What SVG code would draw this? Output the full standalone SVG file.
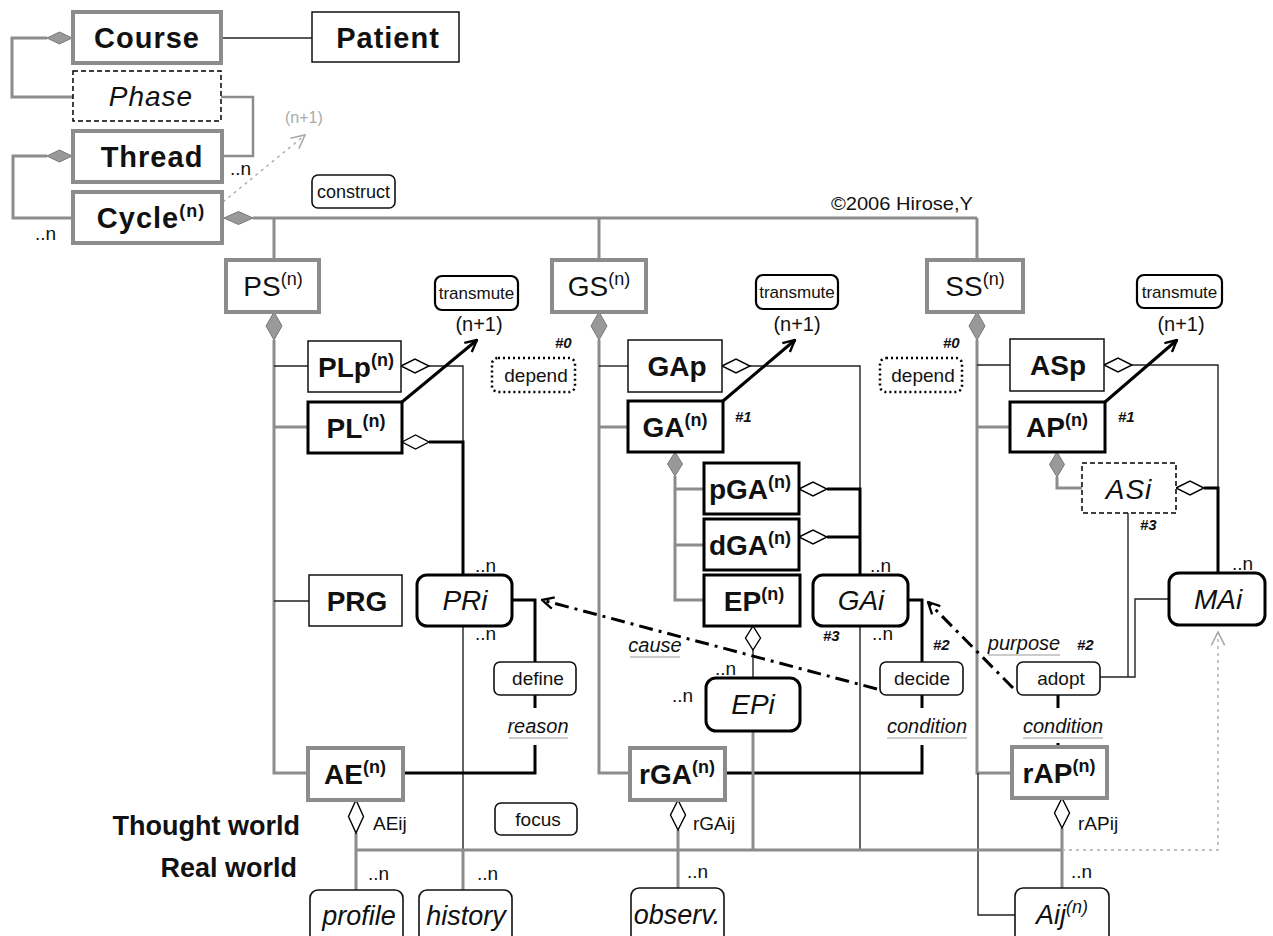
<svg xmlns="http://www.w3.org/2000/svg" width="1273" height="936" viewBox="0 0 1273 936">
<defs>
<style>
text{font-family:"Liberation Sans",Arial,sans-serif;fill:#111}
.b{font-size:28px;font-weight:bold;text-anchor:middle}
.bl{font-size:29px;font-weight:bold;text-anchor:middle;letter-spacing:1px}
.r{font-size:28px;text-anchor:middle}
.i{font-size:28px;font-style:italic;text-anchor:middle}
.il{font-size:27px;font-style:italic;text-anchor:middle}
.sup{font-size:18px}
.s{font-size:19px;text-anchor:middle}
.sl{font-size:19px}
.n{font-size:19px}
.h{font-size:15px;font-weight:bold;font-style:italic}
.u{font-size:20px;font-style:italic;text-anchor:middle}
.w{font-size:27px;font-weight:bold;text-anchor:end}
.g{stroke:#8c8c8c;stroke-width:3;fill:none}
.g2{stroke:#8c8c8c;stroke-width:2.5;fill:none}
.t{stroke:#222;stroke-width:1.4;fill:none}
.k{stroke:#000;stroke-width:3;fill:none}
.ul{stroke:#999;stroke-width:1.2}
.gb{fill:#fff;stroke:#8c8c8c;stroke-width:4}
.tb{fill:#fff;stroke:#111;stroke-width:1.5}
.kb{fill:#fff;stroke:#000;stroke-width:3}
.db{fill:#fff;stroke:#000;stroke-width:1.5;stroke-dasharray:5 3}
.rb{fill:#fff;stroke:#000;stroke-width:3}
.sb{fill:#fff;stroke:#111;stroke-width:1.6}
.tr{fill:#fff;stroke:#000;stroke-width:2.2}
.dp{fill:#fff;stroke:#000;stroke-width:2.5;stroke-dasharray:2 3}
.fd{fill:#999;stroke:#777;stroke-width:1}
.hd{fill:#fff;stroke:#000;stroke-width:1.4}
.dd{stroke:#000;stroke-width:3;fill:none;stroke-dasharray:14 6 3 6}
.gd{stroke:#aaa;stroke-width:1.4;fill:none;stroke-dasharray:3 4}
</style>
<marker id="ah" viewBox="0 0 12 12" refX="11" refY="6" markerWidth="14" markerHeight="14" markerUnits="userSpaceOnUse" orient="auto">
<path d="M1,1 L11,6 L1,11" fill="none" stroke="#000" stroke-width="2"/>
</marker>
<marker id="ahg" viewBox="0 0 12 12" refX="11" refY="6" markerWidth="16" markerHeight="16" markerUnits="userSpaceOnUse" orient="auto">
<path d="M1,1 L11,6 L1,11" fill="none" stroke="#aaa" stroke-width="1.2"/>
</marker>
</defs>
<rect width="1273" height="936" fill="#fff"/>

<g id="connectors">
<!-- top-left loops -->
<path class="g" d="M47,38 H12 V97 H73"/>
<path class="g2" d="M221,97 H253 V156 H222"/>
<path class="g" d="M47,156 H13 V218 H73"/>
<path class="t" d="M221,38 H312"/>
<path class="gd" d="M223,202 L305,135" marker-end="url(#ahg)"/>
<path class="g" d="M253,218 H977 M274,218 V260 M599,218 V260 M977,218 V260"/>
<!-- PS column -->
<path class="g" d="M274,340 V773 H308 M274,427 H308"/>
<path class="t" d="M274,366 H308 M274,601 H309"/>
<!-- GS column -->
<path class="g" d="M599,340 V773 H630 M599,427 H628"/>
<path class="t" d="M599,366 H628"/>
<path class="g" d="M675,476 V600 H704 M675,489 H704 M675,545 H704"/>
<!-- SS column -->
<path class="g" d="M977,340 V773 H1012 M977,427 H1010"/>
<path class="t" d="M977,365 H1010 M978,773 V915 H1015"/>
<path class="g" d="M1057,477 V488 H1082"/>
<!-- PLp / PL to PRi -->
<path class="t" d="M429,366 H463 V575 M463,626 V850"/>
<path class="k" d="M429,442 H463 V575"/>
<path class="g" d="M463,850 V890"/>
<!-- GAp / pGA / dGA to GAi -->
<path class="t" d="M750,366 H860 V489 M860,626 V850"/>
<path class="k" d="M827,489 H860 V575 M827,537 H860"/>
<!-- ASp / ASi to MAi -->
<path class="t" d="M1132,365 H1218 V488"/>
<path class="k" d="M1204,488 H1218 V573"/>
<!-- PRi define AE -->
<path class="k" d="M512,600 H535 V662 M535,695 V708 M535,745 V773 H403"/>
<!-- GAi decide rGA -->
<path class="k" d="M908,600 H922 V662 M922,695 V708 M922,745 V773 H725"/>
<!-- adopt -->
<path class="t" d="M1100,677 H1135 V599 H1169 M1128,677 V513"/>
<path class="k" d="M1058,695 V708 M1058,743 V747"/>
<!-- EP EPi -->
<path class="t" d="M753,650 V678"/>
<path class="g" d="M753,731 V850"/>
<!-- bottom bar -->
<path class="g" d="M356,833 V890 M356,850 H1062 M678,830 V888 M1062,828 V888"/>
<path class="gd" d="M1062,850 H1218 V632" marker-end="url(#ahg)"/>
<!-- transmute arrows -->
<path class="k" d="M402,402 L477,340" marker-end="url(#ah)"/>
<path class="k" d="M723,401 L795,340" marker-end="url(#ah)"/>
<path class="k" d="M1105,402 L1177,340" marker-end="url(#ah)"/>
<!-- dash-dot -->
<path class="dd" d="M877,689 L542,600" marker-end="url(#ah)"/>
<path class="dd" d="M1013,688 L928,602" marker-end="url(#ah)"/>
<!-- diamonds -->
<polygon class="fd" points="47,38 59.5,32 72,38 59.5,44"/>
<polygon class="fd" points="47,156 59.5,150 72,156 59.5,162"/>
<polygon class="fd" points="224,218 238.5,211.5 253,218 238.5,224.5"/>
<polygon class="fd" points="274,312 282,326 274,340 266,326"/>
<polygon class="fd" points="599,312 607,326 599,340 591,326"/>
<polygon class="fd" points="977,312 985,326 977,340 969,326"/>
<polygon class="fd" points="675,452 682.5,464 675,476 667.5,464"/>
<polygon class="fd" points="1057,452 1064.5,464.5 1057,477 1049.5,464.5"/>
<polygon class="hd" points="401,366 415,359 429,366 415,373"/>
<polygon class="hd" points="402,442 415.5,435 429,442 415.5,449"/>
<polygon class="hd" points="722,366 736,359 750,366 736,373"/>
<polygon class="hd" points="799,489 813,482 827,489 813,496"/>
<polygon class="hd" points="799,537 813,530 827,537 813,544"/>
<polygon class="hd" points="1104,365 1118,358 1132,365 1118,372"/>
<polygon class="hd" points="1176,488 1190,481 1204,488 1190,495"/>
<polygon class="hd" points="753,626 760.5,638 753,650 745.5,638"/>
<polygon class="hd" points="356,800 363.5,816.5 356,833 348.5,816.5"/>
<polygon class="hd" points="678,800 685.5,815 678,830 670.5,815"/>
<polygon class="hd" points="1062,798 1069.5,813 1062,828 1054.5,813"/>
</g>

<g id="n-course"><rect class="gb" x="73" y="12" width="148" height="51"/><text class="bl" x="147" y="48">Course</text></g>
<g id="n-patient"><rect class="tb" x="312" y="12" width="147" height="50"/><text class="bl" x="388" y="48">Patient</text></g>
<g id="n-phase"><rect class="db" x="73" y="71" width="148" height="50"/><text class="i" x="151" y="106" style="letter-spacing:1px">Phase</text></g>
<g id="n-thread"><rect class="gb" x="73" y="131" width="149" height="51"/><text class="bl" x="152" y="167">Thread</text></g>
<g id="n-cycle"><rect class="gb" x="73" y="192" width="149" height="51"/><text class="bl" x="151" y="228">Cycle<tspan class="sup" dy="-11">(n)</tspan></text></g>
<g id="n-construct"><rect class="sb" x="312" y="175" width="83" height="33" rx="6"/><text class="s" x="353.5" y="198" style="font-size:18px">construct</text></g>

<g id="n-ps"><rect class="gb" x="226" y="260" width="93" height="52"/><text class="r" x="273" y="296">PS<tspan class="sup" dy="-11">(n)</tspan></text></g>
<g id="n-gs"><rect class="gb" x="552" y="260" width="94" height="52"/><text class="r" x="599" y="296">GS<tspan class="sup" dy="-11">(n)</tspan></text></g>
<g id="n-ss"><rect class="gb" x="927" y="260" width="96" height="52"/><text class="r" x="975" y="296">SS<tspan class="sup" dy="-11">(n)</tspan></text></g>

<g id="n-tm1"><rect class="tr" x="435" y="276" width="83" height="34" rx="7"/><text class="s" x="476.5" y="299" style="font-size:17px">transmute</text></g>
<g id="n-tm2"><rect class="tr" x="756" y="275" width="82" height="34" rx="7"/><text class="s" x="797" y="298" style="font-size:17px">transmute</text></g>
<g id="n-tm3"><rect class="tr" x="1137" y="275" width="85" height="33" rx="7"/><text class="s" x="1179.5" y="298" style="font-size:17px">transmute</text></g>

<g id="n-plp"><rect class="tb" x="308" y="341" width="93" height="51"/><text class="b" x="356" y="377">PLp<tspan class="sup" dy="-11">(n)</tspan></text></g>
<g id="n-pl"><rect class="kb" x="308" y="402" width="94" height="51"/><text class="b" x="356" y="438">PL<tspan class="sup" dy="-11">(n)</tspan></text></g>
<g id="n-dep1"><rect class="dp" x="492" y="358" width="83" height="34" rx="6"/><text class="s" x="536" y="382">depend</text></g>
<g id="n-gap"><rect class="tb" x="628" y="340" width="94" height="52"/><text class="b" x="677" y="376">GAp</text></g>
<g id="n-ga"><rect class="kb" x="628" y="401" width="95" height="51"/><text class="b" x="675" y="437">GA<tspan class="sup" dy="-11">(n)</tspan></text></g>
<g id="n-dep2"><rect class="dp" x="880" y="358" width="82" height="34" rx="6"/><text class="s" x="923" y="382">depend</text></g>
<g id="n-asp"><rect class="tb" x="1010" y="339" width="94" height="52"/><text class="b" x="1058" y="375">ASp</text></g>
<g id="n-ap"><rect class="kb" x="1010" y="402" width="95" height="50"/><text class="b" x="1057" y="437">AP<tspan class="sup" dy="-11">(n)</tspan></text></g>

<g id="n-pga"><rect class="kb" x="704" y="463" width="95" height="51"/><text class="b" x="750" y="499">pGA<tspan class="sup" dy="-11">(n)</tspan></text></g>
<g id="n-dga"><rect class="kb" x="704" y="519" width="95" height="51"/><text class="b" x="750" y="555">dGA<tspan class="sup" dy="-11">(n)</tspan></text></g>
<g id="n-ep"><rect class="kb" x="704" y="575" width="96" height="51"/><text class="b" x="754" y="611">EP<tspan class="sup" dy="-11">(n)</tspan></text></g>
<g id="n-asi"><rect class="db" x="1082" y="463" width="94" height="50"/><text class="i" x="1129" y="499" style="letter-spacing:1px">ASi</text></g>

<g id="n-prg"><rect class="tb" x="309" y="575" width="93" height="51"/><text class="b" x="357" y="611">PRG</text></g>
<g id="n-pri"><rect class="rb" x="417" y="575" width="95" height="51" rx="10"/><text class="i" x="465" y="610">PRi</text></g>
<g id="n-gai"><rect class="rb" x="813" y="575" width="95" height="51" rx="10"/><text class="i" x="861" y="610">GAi</text></g>
<g id="n-mai"><rect class="rb" x="1169" y="573" width="96" height="52" rx="10"/><text class="i" x="1218" y="609">MAi</text></g>

<g id="n-define"><rect class="sb" x="494" y="662" width="82" height="33" rx="6"/><text class="s" x="538" y="685">define</text></g>
<g id="n-decide"><rect class="sb" x="880" y="662" width="83" height="33" rx="6"/><text class="s" x="922" y="685">decide</text></g>
<g id="n-adopt"><rect class="sb" x="1017" y="662" width="83" height="33" rx="6"/><text class="s" x="1061" y="685">adopt</text></g>
<g id="n-epi"><rect class="rb" x="706" y="678" width="94" height="53" rx="10"/><text class="i" x="753" y="714">EPi</text></g>

<g id="n-ae"><rect class="gb" x="308" y="748" width="95" height="52"/><text class="b" x="355" y="784">AE<tspan class="sup" dy="-11">(n)</tspan></text></g>
<g id="n-rga"><rect class="gb" x="630" y="748" width="95" height="52"/><text class="b" x="677" y="784">rGA<tspan class="sup" dy="-11">(n)</tspan></text></g>
<g id="n-rap"><rect class="gb" x="1012" y="747" width="95" height="51"/><text class="b" x="1059" y="783">rAP<tspan class="sup" dy="-11">(n)</tspan></text></g>
<g id="n-focus"><rect class="sb" x="495" y="803" width="82" height="32" rx="6"/><text class="s" x="538" y="826">focus</text></g>

<g id="n-profile"><rect class="sb" x="310" y="890" width="93" height="60" rx="8"/><text class="il" x="359" y="925">profile</text></g>
<g id="n-history"><rect class="sb" x="419" y="890" width="93" height="60" rx="8"/><text class="il" x="466" y="925">history</text></g>
<g id="n-observ"><rect class="sb" x="631" y="888" width="93" height="60" rx="8"/><text class="il" x="677" y="924">observ.</text></g>
<g id="n-aij"><rect class="sb" x="1015" y="888" width="94" height="60" rx="8"/><text class="il" x="1062" y="924">Aij<tspan class="sup" dy="-11">(n)</tspan></text></g>

<g id="labels">
<text x="285" y="123" style="font-size:16px;fill:#aaa">(n+1)</text>
<text x="831" y="210" style="font-size:19px" textLength="142" lengthAdjust="spacingAndGlyphs">©2006 Hirose,Y</text>
<text class="s" x="479" y="331" style="font-size:20px">(n+1)</text>
<text class="s" x="797" y="331" style="font-size:20px">(n+1)</text>
<text class="s" x="1181" y="331" style="font-size:20px">(n+1)</text>
<text class="n" x="230" y="175">..n</text>
<text class="n" x="35" y="240">..n</text>
<text class="n" x="475" y="572">..n</text>
<text class="n" x="475" y="640">..n</text>
<text class="n" x="870" y="572">..n</text>
<text class="n" x="872" y="640">..n</text>
<text class="n" x="715" y="675">..n</text>
<text class="n" x="672" y="702">..n</text>
<text class="n" x="1232" y="570">..n</text>
<text class="n" x="368" y="880">..n</text>
<text class="n" x="477" y="880">..n</text>
<text class="n" x="687" y="878">..n</text>
<text class="n" x="1071" y="878">..n</text>
<text class="h" x="555" y="348">#0</text>
<text class="h" x="943" y="348">#0</text>
<text class="h" x="735" y="422">#1</text>
<text class="h" x="1118" y="422">#1</text>
<text class="h" x="823" y="641">#3</text>
<text class="h" x="1140" y="530">#3</text>
<text class="h" x="933" y="650">#2</text>
<text class="h" x="1077" y="650">#2</text>
<text class="u" x="655" y="652">cause</text>
<text class="u" x="538" y="733">reason</text>
<text class="u" x="927" y="733">condition</text>
<text class="u" x="1024" y="650">purpose</text>
<text class="u" x="1063" y="733">condition</text>
<line class="ul" x1="630" y1="657" x2="680" y2="657"/>
<line class="ul" x1="509" y1="738" x2="568" y2="738"/>
<line class="ul" x1="887" y1="738" x2="967" y2="738"/>
<line class="ul" x1="988" y1="655" x2="1060" y2="655"/>
<line class="ul" x1="1023" y1="738" x2="1103" y2="738"/>
<text class="sl" x="373" y="830">AEij</text>
<text class="sl" x="693" y="830">rGAij</text>
<text class="sl" x="1078" y="830">rAPij</text>
<text class="w" x="300" y="835">Thought world</text>
<text class="w" x="297" y="877">Real world</text>
</g>
</svg>
